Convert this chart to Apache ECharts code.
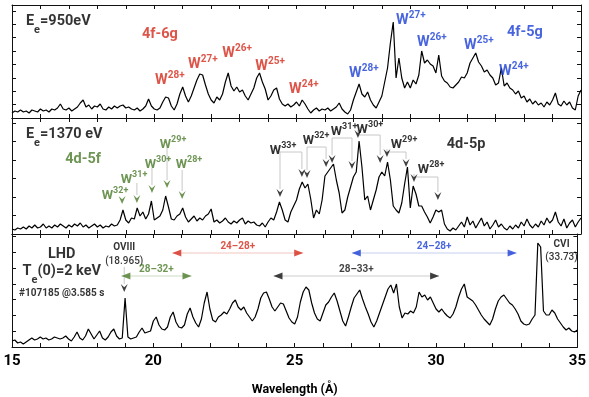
<!DOCTYPE html>
<html>
<head>
<meta charset="utf-8">
<script src="https://cdn.jsdelivr.net/npm/echarts@6/dist/echarts.min.js"></script>
<style>
  html, body { margin: 0; padding: 0; background: #fff; }
  #chart { width: 589px; height: 397px; }
</style>
</head>
<body>
<div id="chart"></div>
<script>
// wavelength grid of the spectra (Å)
const WL_START = 15;
const WL_STEP = 0.1;

// intensities (arb. units), 15.0 .. 35.0 Å
const spec950 = [
  5, 7, 6, 8, 6, 7, 5, 8, 7, 6,
  9, 7, 8, 6, 9, 8, 10, 14, 9, 8,
  10, 7, 9, 11, 15, 18, 11, 13, 9, 12,
  11, 14, 9, 8, 11, 9, 12, 10, 12, 13,
  10, 11, 9, 8, 10, 7, 9, 12, 19, 12,
  9, 8, 10, 16, 21, 20, 12, 8, 14, 24,
  31, 22, 16, 22, 30, 38, 44, 43, 33, 24,
  18, 15, 21, 18, 24, 36, 45, 32, 27, 31,
  26, 28, 22, 18, 24, 30, 40, 45, 36, 29,
  18, 22, 28, 30, 19, 14, 12, 14, 11, 13,
  16, 12, 18, 14, 9, 5, 8, 10, 7, 9,
  8, 10, 7, 9, 11, 15, 9, 6, 4, 8,
  18, 26, 34, 24, 21, 26, 18, 13, 10, 16,
  22, 36, 50, 75, 96, 40, 60, 40, 30, 36,
  30, 38, 34, 43, 67, 55, 58, 54, 52, 45,
  63, 42, 37, 35, 31, 30, 33, 36, 41, 40,
  45, 55, 60, 65, 56, 52, 46, 48, 43, 40,
  33, 35, 50, 32, 35, 30, 28, 24, 27, 20,
  22, 16, 19, 14, 17, 13, 15, 11, 16, 13,
  18, 25, 14, 12, 17, 13, 16, 10, 8, 22,
  28
];

const spec1370 = [
  5, 4, 6, 5, 7, 5, 8, 6, 9, 6,
  7, 10, 6, 8, 6, 9, 7, 10, 8, 6,
  9, 7, 10, 8, 11, 7, 9, 6, 8, 10,
  7, 9, 6, 8, 7, 10, 8, 9, 14, 24,
  14, 11, 16, 15, 26, 18, 22, 15, 20, 33,
  14, 16, 18, 24, 38, 27, 15, 14, 18, 20,
  26, 17, 12, 15, 18, 13, 16, 14, 18, 20,
  25, 12, 14, 11, 13, 16, 12, 10, 13, 11,
  14, 16, 10, 13, 11, 12, 9, 8, 11, 7,
  12, 16, 14, 22, 32, 24, 14, 12, 22, 28,
  34, 45, 52, 46, 50, 35, 16, 24, 20, 34,
  58, 62, 66, 70, 54, 41, 21, 24, 37, 47,
  57, 62, 93, 67, 34, 38, 24, 34, 44, 57,
  62, 58, 72, 54, 28, 24, 21, 31, 50, 67,
  26, 48, 40, 28, 28, 22, 17, 11, 17, 24,
  22, 24, 10, 5, 3, 6, 4, 8, 12, 7,
  17, 9, 13, 6, 11, 16, 8, 12, 5, 9,
  14, 7, 10, 6, 4, 8, 5, 9, 6, 12,
  8, 15, 9, 6, 10, 7, 13, 9, 16, 11,
  14, 22, 12, 8, 15, 6, 11, 14, 7, 12,
  16
];

const specLHD = [
  6, 7, 4, 5, 3, 5, 7, 9, 7, 8,
  10, 8, 9, 7, 8, 10, 9, 8, 9, 11,
  8, 6, 10, 15, 9, 7, 11, 18, 13, 8,
  12, 16, 9, 7, 10, 15, 18, 11, 8, 9,
  49, 10, 8, 9, 10, 15, 19, 14, 15, 16,
  26, 30, 22, 18, 17, 20, 30, 35, 25, 20,
  19, 22, 33, 39, 30, 24, 20, 28, 44, 55,
  38, 27, 25, 30, 32, 35, 33, 38, 44, 47,
  40, 37, 40, 34, 30, 26, 30, 38, 49, 54,
  55, 48, 40, 36, 40, 44, 43, 36, 29, 25,
  23, 30, 45, 55, 60, 57, 44, 34, 28, 26,
  34, 42, 45, 50, 54, 46, 36, 26, 21, 30,
  40, 49, 53, 57, 48, 40, 33, 25, 20, 26,
  34, 42, 50, 58, 62, 54, 63, 40, 29, 34,
  33, 36, 34, 40, 55, 50, 52, 47, 50, 44,
  38, 35, 38, 34, 31, 29, 33, 40, 50, 58,
  63, 50, 48, 46, 42, 37, 32, 28, 25, 22,
  28, 38, 46, 50, 52, 48, 44, 42, 38, 33,
  26, 23, 22, 23, 28, 32, 104, 100, 36, 32,
  32, 37, 34, 28, 24, 20, 17, 19, 16, 15,
  17
];

// ion labels: [charge, wavelength, height]
const topRed = [['28', 20.55, 39], ['27', 21.71, 55], ['26', 22.91, 66], ['25', 24.07, 53], ['24', 25.26, 30]];
const topBlue = [['28', 27.37, 46], ['27', 29.02, 99], ['26', 29.76, 77], ['25', 31.41, 74], ['24', 32.64, 48]];
const midGreen = [['32', 18.62, 40], ['31', 19.29, 56], ['30', 20.13, 71], ['29', 20.66, 91], ['28', 21.22, 71]];
// green markers: [wavelength, arrow tip height, top of leader]
const midGreenMarks = [[18.87, 30, 33], [19.39, 31, 51], [19.92, 41, 66], [20.45, 46, 87], [20.98, 35, 64]];
const midBlack = [['33', 24.53, 85], ['32', 25.69, 95], ['31', 26.67, 104], ['30', 27.58, 106], ['29', 28.78, 91], ['28', 29.73, 66]];
// brackets: [bar height, wl1, tip1, wl2, tip2]
const midBrackets = [
  [82, 24.42, 37, 25.19, 57],
  [87, 25.37, 56, 26.04, 67],
  [96, 26.25, 71, 26.95, 65],
  [99, 27.16, 96, 27.94, 71],
  [82, 28.18, 77, 28.85, 67],
  [57, 29.13, 52, 29.97, 34]
];
// charge-state ranges in the LHD panel: [text, wl1, wl2, height, colour key]
const lhdRanges = [
  ['24\u201328+', 20.67, 25.3, 94, 'red'],
  ['24\u201328+', 27.02, 32.85, 94, 'blue'],
  ['28\u201332+', 18.87, 21.35, 71, 'green'],
  ['28\u201333+', 24.25, 30.11, 71, 'black']
];

const COLORS = { red: '#d42a1c', blue: '#1a3ed6', green: '#4b7a2a', black: '#111' };
const LIGHT = { red: '#f0c6c1', blue: '#c6cff0', green: '#ccdac2', black: '#cccccc' };
const FONT = 'Roboto, "Open Sans", sans-serif';

const panels = [
  { top: 5, height: 113, tick: 13.4, data: spec950 },
  { top: 118, height: 116, tick: 18.5, data: spec1370 },
  { top: 234, height: 113, tick: 15.8, data: specLHD }
];

const CHEVRON = 'path://M0,0L5,4L10,0L5,10Z';
const TRI_L = 'path://M10,0L0,5L10,10Z';
const TRI_R = 'path://M0,0L10,5L0,10Z';

const chart = echarts.init(document.getElementById('chart'));

const grid = [], xAxis = [], yAxis = [], series = [];

panels.forEach((p, i) => {
  grid.push({ left: 12, right: 8, top: p.top, height: p.height, containLabel: false });
  const xBase = {
    gridIndex: i, type: 'value', min: 15, max: 35, interval: 1,
    axisLine: { show: true, onZero: false, lineStyle: { color: '#111', width: 1 } },
    axisTick: { show: true, inside: true, length: 4, lineStyle: { color: '#111' } },
    splitLine: { show: false }
  };
  xAxis.push(Object.assign({}, xBase, {
    position: 'bottom',
    axisLabel: {
      show: i === 2, margin: 7, color: '#000', fontFamily: FONT, fontSize: 15, fontWeight: 'bold',
      formatter: (v) => (v % 5 === 0 ? String(v) : '')
    },
    name: i === 2 ? 'Wavelength (\u00c5)' : '',
    nameLocation: 'middle', nameGap: 36,
    nameTextStyle: { color: '#000', fontFamily: FONT, fontSize: 12.5, fontWeight: 'bold' }
  }));
  xAxis.push(Object.assign({}, xBase, { position: 'top', axisLabel: { show: false } }));
  const yBase = {
    gridIndex: i, type: 'value', min: 0, max: p.height, interval: p.tick,
    axisLine: { show: true, onZero: false, lineStyle: { color: '#111', width: 1 } },
    axisTick: { show: true, inside: true, length: 4, lineStyle: { color: '#111' } },
    axisLabel: { show: false },
    splitLine: { show: false }
  };
  yAxis.push(Object.assign({}, yBase, { position: 'left' }));
  yAxis.push(Object.assign({}, yBase, { position: 'right' }));

  series.push({
    type: 'line', xAxisIndex: 2 * i, yAxisIndex: 2 * i,
    data: p.data.map((v, k) => [+(WL_START + k * WL_STEP).toFixed(1), v]),
    showSymbol: false, silent: true,
    lineStyle: { color: '#000', width: 1.2 }
  });
});

function axes(i) {
  return { xAxisIndex: 2 * i, yAxisIndex: 2 * i };
}

const rich = {
  big: { fontSize: 14.5, fontWeight: 'bold', lineHeight: 18, verticalAlign: 'bottom' },
  bigT: { fontSize: 14.5, fontWeight: 'bold', lineHeight: 22, verticalAlign: 'top' },
  mid: { fontSize: 13, fontWeight: 'bold', lineHeight: 16, verticalAlign: 'bottom' },
  sup: { fontSize: 10, fontWeight: 'bold', lineHeight: 9, verticalAlign: 'top' },
  sups: { fontSize: 9, fontWeight: 'bold', lineHeight: 8, verticalAlign: 'top' },
  sub: { fontSize: 11, fontWeight: 'bold', verticalAlign: 'bottom' },
  sm: { fontSize: 10, fontWeight: 'bold', lineHeight: 12 },
  tiny: { fontSize: 10, fontWeight: 500, lineHeight: 12 }
};

function txt(x, y, str, color, extra) {
  return {
    value: [x, y],
    label: Object.assign({ formatter: () => str, color: color }, extra || {})
  };
}

function textSeries(i, items) {
  series.push(Object.assign({
    type: 'scatter', symbol: 'circle', symbolSize: 1, silent: true, z: 5,
    itemStyle: { color: 'rgba(0,0,0,0)' },
    label: { show: true, position: 'inside', fontFamily: FONT, fontWeight: 'bold', rich: rich },
    data: items
  }, axes(i)));
}

function linesSeries(i, items) {
  series.push(Object.assign({
    type: 'lines', coordinateSystem: 'cartesian2d', polyline: true, silent: true, z: 3,
    lineStyle: { color: '#c8c8c8', width: 1, opacity: 1 },
    data: items
  }, axes(i)));
}

function markSeries(i, items) {
  series.push(Object.assign({
    type: 'scatter', silent: true, z: 4, data: items
  }, axes(i)));
}

// ---- top panel: E_e = 950 eV
textSeries(0, [
  txt(15.49, 93, '{bigT|E}{sub|e}{bigT|=950eV}', '#000', { align: 'left' }),
  txt(20.2, 85, '{big|4f-6g}', COLORS.red),
  txt(33.03, 87, '{big|4f-5g}', COLORS.blue)
].concat(
  topRed.map((d) => txt(d[1], d[2], '{big|W}{sup|' + d[0] + '+}', COLORS.red)),
  topBlue.map((d) => txt(d[1], d[2], '{big|W}{sup|' + d[0] + '+}', COLORS.blue))
));

// ---- middle panel: E_e = 1370 eV
textSeries(1, [
  txt(15.49, 96, '{bigT|E}{sub|e}{bigT|=1370 eV}', '#000', { align: 'left' }),
  txt(17.5, 76, '{big|4d-5f}', COLORS.green),
  txt(30.96, 91, '{big|4d-5p}', '#000')
].concat(
  midGreen.map((d) => txt(d[1], d[2], '{mid|W}{sups|' + d[0] + '+}', COLORS.green)),
  midBlack.map((d) => txt(d[1], d[2], '{mid|W}{sups|' + d[0] + '+}', '#000'))
));

linesSeries(1, midBrackets.map((b) => ({
  coords: [[b[1], b[2] + 8], [b[1], b[0]], [b[3], b[0]], [b[3], b[4] + 8]]
})).concat(midGreenMarks.filter((m) => m[2] > m[1] + 8).map((m) => ({
  coords: [[m[0], m[2]], [m[0], m[1] + 8]]
}))));

const chevron = (x, tip, color) => ({
  value: [x, tip], symbol: CHEVRON, symbolSize: [7, 8], symbolOffset: [0, -4],
  itemStyle: { color: color }
});

markSeries(1, midGreenMarks.map((m) => chevron(m[0], m[1], COLORS.green)).concat(
  midBrackets.flatMap((b) => [chevron(b[1], b[2], '#111'), chevron(b[3], b[4], '#111')])
));

// ---- bottom panel: LHD
textSeries(2, [
  txt(16.76, 94, '{big|LHD}', '#000'),
  txt(16.76, 72, '{bigT|T}{sub|e}{bigT|(0)=2 keV}', '#000'),
  txt(16.76, 54, '{sm|#107185 @3.585 s}', '#000'),
  txt(18.97, 100, '{sm|OVIII}', '#000'),
  txt(18.97, 86, '{tiny|(18.965)}', '#000'),
  txt(34.44, 103, '{sm|CVI}', '#000'),
  txt(34.44, 90, '{tiny|(33.73)}', '#000')
].concat(lhdRanges.map((r) => txt((r[1] + r[2]) / 2, r[3] + 7, '{sm|' + r[0] + '}', COLORS[r[4]]))));

linesSeries(2, lhdRanges.map((r) => ({
  coords: [[r[1], r[3]], [r[2], r[3]]],
  lineStyle: { color: LIGHT[r[4]], width: 1 }
})).concat([{ coords: [[18.97, 80], [18.97, 63]] }]));

markSeries(2, lhdRanges.flatMap((r) => [
  { value: [r[1], r[3]], symbol: TRI_L, symbolSize: [9, 7], symbolOffset: [4.5, 0], itemStyle: { color: COLORS[r[4]] } },
  { value: [r[2], r[3]], symbol: TRI_R, symbolSize: [9, 7], symbolOffset: [-4.5, 0], itemStyle: { color: COLORS[r[4]] } }
]).concat([chevron(18.97, 55, '#111')]));

chart.setOption({
  animation: false,
  backgroundColor: '#fff',
  textStyle: { fontFamily: FONT },
  grid: grid,
  xAxis: xAxis,
  yAxis: yAxis,
  series: series
});
</script>
</body>
</html>
